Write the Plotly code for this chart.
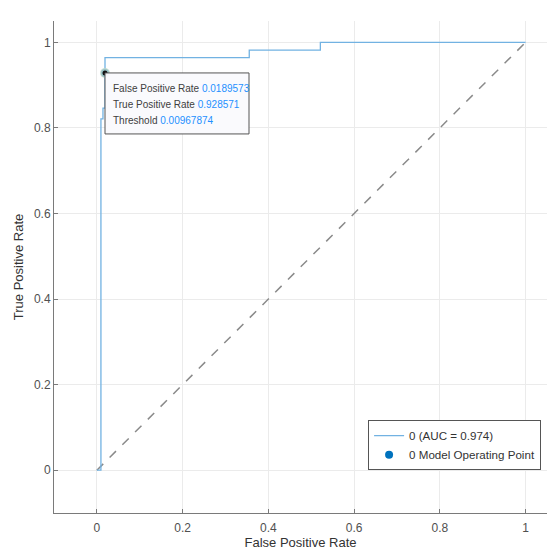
import plotly.graph_objects as go

# ROC curve data (FPR, TPR)
fpr = [0.0, 0.00948, 0.00948, 0.01422, 0.01422, 0.01896, 0.01896, 0.01896, 0.35545, 0.35545, 0.52133, 0.52133, 1.0]
tpr = [0.0, 0.0, 0.82143, 0.82143, 0.84615, 0.84615, 0.92857, 0.96429, 0.96429, 0.98214, 0.98214, 1.0, 1.0]

# operating point
op_fpr = [0.0189573]
op_tpr = [0.928571]
op_threshold = 0.00967874

diag_x = [0, 1]
diag_y = [0, 1]

auc = 0.974
xticks = [0, 0.2, 0.4, 0.6, 0.8, 1]
yticks = [0, 0.2, 0.4, 0.6, 0.8, 1]

tip_labels = ["False Positive Rate", "True Positive Rate", "Threshold"]
tip_values = [op_fpr[0], op_tpr[0], op_threshold]

FONT = "Liberation Sans, Arial, sans-serif"
CURVE = "#72b2e2"
OPC = "#0072BD"
VAL = "#1e90ff"

fig = go.Figure()
fig.add_trace(go.Scatter(x=diag_x, y=diag_y, mode="lines",
                         line=dict(color="#8a8a8a", width=1.5, dash="dash"),
                         showlegend=False, hoverinfo="skip"))
fig.add_trace(go.Scatter(x=fpr, y=tpr, mode="lines",
                         line=dict(color=CURVE, width=1.3),
                         name=f"0 (AUC = {auc})", hoverinfo="skip"))
fig.add_trace(go.Scatter(x=op_fpr, y=op_tpr, mode="markers",
                         marker=dict(color=OPC, size=8),
                         name="0 Model Operating Point", hoverinfo="skip"))

# datatip box (pixel-sized, anchored at the operating point)
fig.add_shape(type="rect", xref="x", yref="y",
              xsizemode="pixel", ysizemode="pixel",
              xanchor=op_fpr[0], yanchor=op_tpr[0],
              x0=0, x1=144, y0=0, y1=-61,
              line=dict(color="#555555", width=1),
              fillcolor="rgba(250,250,253,0.96)", layer="above")
for i, (lab, val) in enumerate(zip(tip_labels, tip_values)):
    fig.add_annotation(x=op_fpr[0], y=op_tpr[0], xref="x", yref="y",
                       xanchor="left", yanchor="middle", showarrow=False,
                       xshift=6, yshift=-16 * (i + 1),
                       text=f"{lab} <span style='color:{VAL}'>{val}</span>",
                       font=dict(family=FONT, size=10, color="#404040"))

# datatip marker
fig.add_trace(go.Scatter(x=op_fpr, y=op_tpr, mode="markers",
                         marker=dict(color="rgba(190,215,200,0.8)", size=10),
                         showlegend=False, hoverinfo="skip"))
fig.add_trace(go.Scatter(x=op_fpr, y=op_tpr, mode="markers",
                         marker=dict(color="#111111", size=5),
                         showlegend=False, hoverinfo="skip"))

axis_common = dict(showline=True, linecolor="#7a7a7a", linewidth=1,
                   ticks="inside", ticklen=4, tickcolor="#7a7a7a",
                   showgrid=True, gridcolor="#ebebeb", gridwidth=1,
                   zeroline=False, mirror=False, automargin=False,
                   tickfont=dict(family=FONT, size=12, color="#505050"))

fig.update_xaxes(range=[-0.1, 1.05], tickvals=xticks, ticktext=[f"{v:g}" for v in xticks],
                 ticklabelstandoff=4,
                 title=dict(text="False Positive Rate", standoff=3,
                            font=dict(family=FONT, size=13, color="#333333")),
                 **axis_common)
fig.update_yaxes(range=[-0.1, 1.05], tickvals=yticks, ticktext=[f"{v:g}" for v in yticks],
                 title=dict(text="True Positive Rate", standoff=7,
                            font=dict(family=FONT, size=13, color="#333333")),
                 **axis_common)

fig.update_layout(width=547, height=551,
                  margin=dict(l=54, r=0, t=21, b=38, autoexpand=False),
                  paper_bgcolor="white", plot_bgcolor="white",
                  font=dict(family=FONT),
                  showlegend=True,
                  legend=dict(x=0.988, y=0.087, xanchor="right", yanchor="bottom",
                              bgcolor="white", bordercolor="#555555", borderwidth=1,
                              font=dict(family=FONT, size=11.6, color="#333333"),
                              tracegroupgap=0, itemwidth=30))

fig.write_html("out.html", config={"displayModeBar": False},
               post_script="document.body.style.margin='0px';document.body.style.overflow='hidden';")
